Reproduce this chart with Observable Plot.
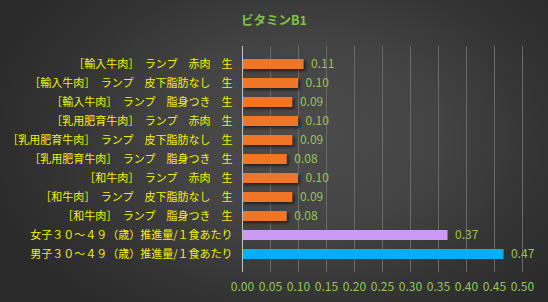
<!DOCTYPE html>
<html><head><meta charset="utf-8">
<script src="https://cdn.jsdelivr.net/npm/d3@7"></script>
<script src="https://cdn.jsdelivr.net/npm/@observablehq/plot@0.6"></script>
<style>
html,body{margin:0;padding:0;background:#2a2a2a;}
#wrap{position:relative;width:548px;height:302px;overflow:hidden;
 background:radial-gradient(ellipse 60% 75% at 55% 45%, #4c4c4c 0%, #444 40%, #333 75%, #2a2a2a 100%);
 font-family:"Noto Sans CJK JP","Noto Sans",sans-serif;}
#title{position:absolute;left:0;width:548px;top:10px;text-align:center;color:#7fc241;font-size:12.5px;font-weight:bold;}
#wrap svg{position:absolute;left:0;top:0;background:transparent;}
.shadow rect{filter:drop-shadow(2px 2px 1.5px rgba(0,0,0,0.55));}
</style></head>
<body><div id="wrap"><div id="title">ビタミンB1</div></div>
<script>
const categories = [
  "［輸入牛肉］　ランプ　赤肉　生",
  "［輸入牛肉］　ランプ　皮下脂肪なし　生",
  "［輸入牛肉］　ランプ　脂身つき　生",
  "［乳用肥育牛肉］　ランプ　赤肉　生",
  "［乳用肥育牛肉］　ランプ　皮下脂肪なし　生",
  "［乳用肥育牛肉］　ランプ　脂身つき　生",
  "［和牛肉］　ランプ　赤肉　生",
  "［和牛肉］　ランプ　皮下脂肪なし　生",
  "［和牛肉］　ランプ　脂身つき　生",
  "女子３０～４９（歳）推進量/１食あたり",
  "男子３０～４９（歳）推進量/１食あたり"
];
const values = [0.11, 0.10, 0.09, 0.10, 0.09, 0.08, 0.10, 0.09, 0.08, 0.367, 0.467];
const groups = ["beef","beef","beef","beef","beef","beef","beef","beef","beef","female","male"];
const groupNames = ["beef","female","male"];
const groupColors = ["#f07524","#cc99f5","#00b0f0"];
const xTicks = [0,0.05,0.10,0.15,0.20,0.25,0.30,0.35,0.40,0.45,0.50];

const data = categories.map((c,i)=>({name:c, value:values[i], group:groups[i]}));
const beef = data.filter(d=>d.group==="beef");
const rec = data.filter(d=>d.group!=="beef");

const chart = Plot.plot({
  width:548, height:302,
  marginLeft:242, marginRight:26, marginTop:46, marginBottom:30,
  style:{background:"transparent", fontFamily:"'Noto Sans CJK JP', sans-serif"},
  x:{domain:[0,0.5]},
  y:{domain:categories, padding:0.5},
  color:{domain:groupNames, range:groupColors},
  marks:[
    Plot.gridX(xTicks.slice(1), {stroke:"#6a6a6a", strokeOpacity:1, strokeWidth:1}),
    Plot.barX(beef, {x:"value", y:"name", fill:"group", className:"shadow"}),
    Plot.barX(rec, {x:"value", y:"name", fill:"group"}),
    Plot.ruleX([0], {stroke:"#c0c0c0", strokeWidth:1}),
    Plot.text(data, {x:"value", y:"name", text:d=>d3.format(".2f")(d.value), textAnchor:"start", dx:7, fill:"#9bc25a", fontSize:12}),
    Plot.axisX({ticks:xTicks, tickFormat:d3.format(".2f"), tickSize:0, tickPadding:10, fill:"#9bc25a", fontSize:12, label:null}),
    Plot.axisY({tickSize:0, tickPadding:10, fill:"#f2f200", fontSize:11, label:null})
  ]
});
document.getElementById("wrap").appendChild(chart);
</script></body></html>
